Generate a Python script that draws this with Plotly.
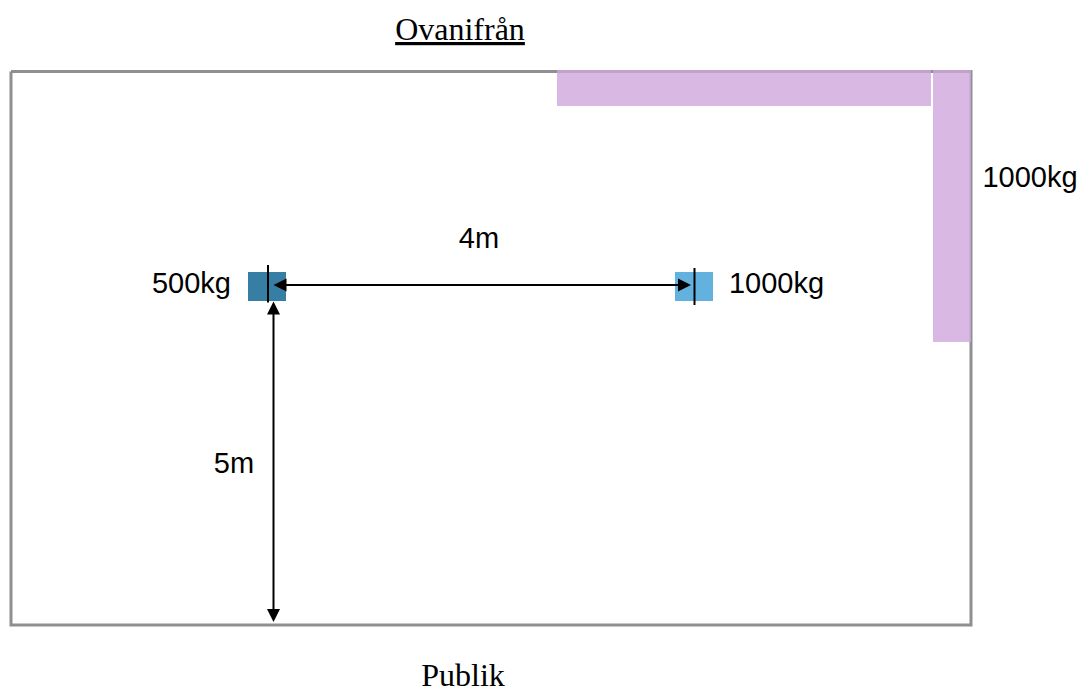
import plotly.graph_objects as go

# Diagram values, in picture-pixel units
stage_x = [11, 971, 971, 11, 11]
stage_y = [71.5, 71.5, 625, 625, 71.5]

band_names = ["top band", "side band"]
band_x = [[557, 931, 931, 557, 557], [933, 971, 971, 933, 933]]
band_y = [[70, 70, 106, 106, 70], [70, 70, 342, 342, 70]]

load_names = ["500kg load", "1000kg load"]
load_x = [[248, 286, 286, 248, 248], [675, 713, 713, 675, 675]]
load_y = [[272, 272, 301, 301, 272], [272, 272, 301, 301, 272]]
load_colors = ["#367ea3", "#62b1df"]

tick_x = [[268, 268], [694.5, 694.5]]
tick_y = [[265, 302.5], [268, 305]]

arrow_starts = [(272, 285), (273.5, 300)]
arrow_ends = [(691, 285), (273.5, 622)]

sans_labels = ["500kg", "1000kg", "1000kg", "4m", "5m"]
sans_x = [191.5, 776.5, 1030, 479, 234]
sans_y = [286, 286, 180, 240.5, 465.5]

serif_labels = ["<u>Ovanifrån</u>", "Publik"]
serif_x = [460, 463]
serif_y = [32, 678]

fig = go.Figure()

fig.add_trace(go.Scatter(x=stage_x, y=stage_y, mode="lines",
                         line=dict(color="#8e8f92", width=3), hoverinfo="skip"))

for name, xs, ys in zip(band_names, band_x, band_y):
    fig.add_trace(go.Scatter(x=xs, y=ys, name=name, mode="lines", fill="toself",
                             fillcolor="rgba(208,166,220,0.8)", line=dict(width=0)))

for name, xs, ys, c in zip(load_names, load_x, load_y, load_colors):
    fig.add_trace(go.Scatter(x=xs, y=ys, name=name, mode="lines", fill="toself",
                             fillcolor=c, line=dict(width=0)))

for xs, ys in zip(tick_x, tick_y):
    fig.add_trace(go.Scatter(x=xs, y=ys, mode="lines",
                             line=dict(color="#000000", width=2), hoverinfo="skip"))

fig.add_trace(go.Scatter(x=sans_x, y=sans_y, mode="text", text=sans_labels,
                         textposition="middle center", cliponaxis=False,
                         textfont=dict(family="Liberation Sans", size=29, color="#000000")))
fig.add_trace(go.Scatter(x=serif_x, y=serif_y, mode="text", text=serif_labels,
                         textposition="middle center", cliponaxis=False,
                         textfont=dict(family="Liberation Serif", size=32, color="#000000")))

annotations = [
    dict(x=e[0], y=e[1], ax=s[0], ay=s[1], xref="x", yref="y", axref="x", ayref="y",
         text="", showarrow=True, arrowhead=2, startarrowhead=2, arrowside="end+start",
         arrowsize=1.3, startarrowsize=1.3, arrowwidth=2, arrowcolor="#000000")
    for s, e in zip(arrow_starts, arrow_ends)
]

fig.update_layout(
    width=1079, height=687, margin=dict(l=0, r=0, t=0, b=0),
    paper_bgcolor="#ffffff", plot_bgcolor="#ffffff", showlegend=False,
    xaxis=dict(range=[0, 1079], visible=False, fixedrange=True),
    yaxis=dict(range=[687, 0], visible=False, fixedrange=True),
    annotations=annotations,
)

fig.write_html("out.html", config={"displayModeBar": False},
               post_script="document.body.style.margin='0';")
